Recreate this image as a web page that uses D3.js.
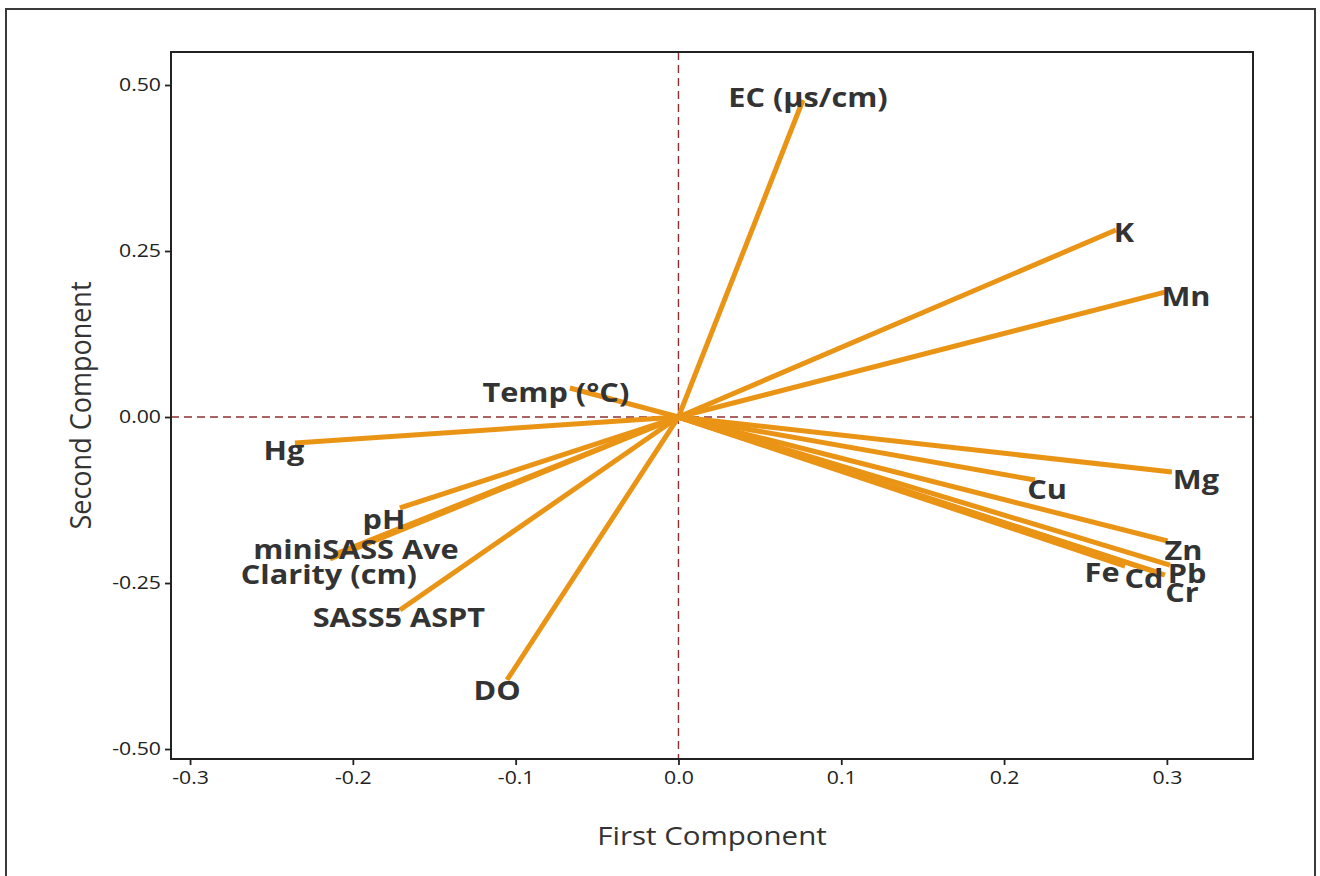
<!DOCTYPE html>
<html>
<head>
<meta charset="utf-8">
<script src="https://cdn.jsdelivr.net/npm/d3@7"></script>
<style>
  html, body { margin: 0; padding: 0; background: #fff; }
  svg { display: block; }
</style>
</head>
<body>
<svg id="chart" width="1320" height="876"></svg>
<script>
// Loadings of each variable on the first two principal components
const variables = ["EC (µs/cm)", "K", "Mn", "Temp (°C)", "Hg", "pH", "miniSASS Ave",
  "Clarity (cm)", "SASS5 ASPT", "DO", "Cu", "Mg", "Zn", "Fe", "Cd", "Pb", "Cr"];
const firstComponent = [0.0765, 0.2687, 0.2988, -0.0667, -0.2356, -0.1711, -0.2141,
  -0.2092, -0.1711, -0.1053, 0.2190, 0.3031, 0.3004, 0.2743, 0.2958, 0.3019, 0.2988];
const secondComponent = [0.4774, 0.2816, 0.1880, 0.0437, -0.0392, -0.1370, -0.2139,
  -0.2048, -0.2907, -0.3960, -0.0949, -0.0828, -0.1867, -0.2244, -0.2350, -0.2229, -0.2380];

const xTicks = [-0.3, -0.2, -0.1, 0.0, 0.1, 0.2, 0.3];
const yTicks = [-0.50, -0.25, 0.00, 0.25, 0.50];

// Pixel nudges that keep the variable names clear of each other
const labelNudge = {
  "EC (µs/cm)": [5, -3], "K": [8, 2], "Mn": [21, 4], "Temp (°C)": [-14, 4],
  "Hg": [-11, 7], "pH": [-16, 11], "miniSASS Ave": [26, -10], "Clarity (cm)": [-9, 21],
  "SASS5 ASPT": [-1, 7], "DO": [-10, 10], "Cu": [12, 9], "Mg": [24, 7],
  "Zn": [16, 9], "Fe": [-23, 6], "Cd": [-16, 5], "Pb": [17, 8], "Cr": [17, 17]
};

const loadings = variables.map((name, i) => ({
  name, pc1: firstComponent[i], pc2: secondComponent[i]
}));

const plot = { left: 171, right: 1253, top: 52, bottom: 759 };
const stretch = 1.18;
const font = "'Open Sans', 'Noto Sans', sans-serif";

const svg = d3.select("#chart");

// outer figure border
svg.append("rect")
  .attr("x", 6).attr("y", 9).attr("width", 1309).attr("height", 890)
  .attr("fill", "#fff").attr("stroke", "#3a3a3a").attr("stroke-width", 2);

const x = d3.scaleLinear().domain([-0.3117, 0.3529]).range([plot.left, plot.right]);
const y = d3.scaleLinear().domain([-0.515, 0.5497]).range([plot.bottom, plot.top]);

// reference lines through the origin
svg.append("line")
  .attr("x1", x(0)).attr("x2", x(0)).attr("y1", plot.top).attr("y2", plot.bottom)
  .attr("stroke", "#8e2f2f").attr("stroke-width", 1.4).attr("stroke-dasharray", "8,5");
svg.append("line")
  .attr("x1", plot.left).attr("x2", plot.right).attr("y1", y(0)).attr("y2", y(0))
  .attr("stroke", "#8e2f2f").attr("stroke-width", 1.4).attr("stroke-dasharray", "8,5");

// axes
const xAxis = svg.append("g")
  .attr("transform", `translate(0,${plot.bottom})`)
  .call(d3.axisBottom(x).tickValues(xTicks).tickFormat(d => d.toFixed(1)).tickSize(6).tickPadding(6));
const yAxis = svg.append("g")
  .attr("transform", `translate(${plot.left},0)`)
  .call(d3.axisLeft(y).tickValues(yTicks).tickFormat(d => d.toFixed(2)).tickSize(6).tickPadding(4));

[xAxis, yAxis].forEach(g => {
  g.select(".domain").remove();
  g.selectAll(".tick line").attr("stroke", "#222").attr("stroke-width", 1.8);
  g.selectAll(".tick text")
    .attr("font-family", font).attr("font-size", 18).attr("fill", "#222");
});
xAxis.selectAll(".tick text").attr("dy", "0.71em")
  .attr("transform", `scale(${stretch},1)`);
yAxis.selectAll(".tick text")
  .attr("x", -10 / stretch)
  .attr("transform", `scale(${stretch},1)`);

// plot frame
svg.append("rect")
  .attr("x", plot.left).attr("y", plot.top)
  .attr("width", plot.right - plot.left).attr("height", plot.bottom - plot.top)
  .attr("fill", "none").attr("stroke", "#222").attr("stroke-width", 2);

// loading vectors
svg.append("g").selectAll("line")
  .data(loadings).join("line")
  .attr("x1", x(0)).attr("y1", y(0))
  .attr("x2", d => x(d.pc1)).attr("y2", d => y(d.pc2))
  .attr("stroke", "#ea9416").attr("stroke-width", 5).attr("stroke-linecap", "butt");

// variable names
svg.append("g").selectAll("g")
  .data(loadings).join("g")
  .attr("transform", d => {
    const n = labelNudge[d.name] || [0, 0];
    return `translate(${x(d.pc1) + n[0]},${y(d.pc2) + n[1]}) scale(${stretch},1)`;
  })
  .append("text")
  .attr("text-anchor", "middle").attr("dominant-baseline", "central")
  .attr("font-family", font).attr("font-weight", "bold").attr("font-size", 26)
  .attr("fill", "#333")
  .text(d => d.name);

// axis titles
svg.append("g")
  .attr("transform", `translate(${(plot.left + plot.right) / 2},835) scale(${stretch},1)`)
  .append("text")
  .attr("text-anchor", "middle").attr("dominant-baseline", "central")
  .attr("font-family", font).attr("font-size", 25).attr("fill", "#333")
  .text("First Component");

svg.append("g")
  .attr("transform", `translate(80,${(plot.top + plot.bottom) / 2}) rotate(-90) scale(1.08,${stretch})`)
  .append("text")
  .attr("text-anchor", "middle").attr("dominant-baseline", "central")
  .attr("font-family", font).attr("font-size", 25).attr("fill", "#333")
  .text("Second Component");
</script>
</body>
</html>
